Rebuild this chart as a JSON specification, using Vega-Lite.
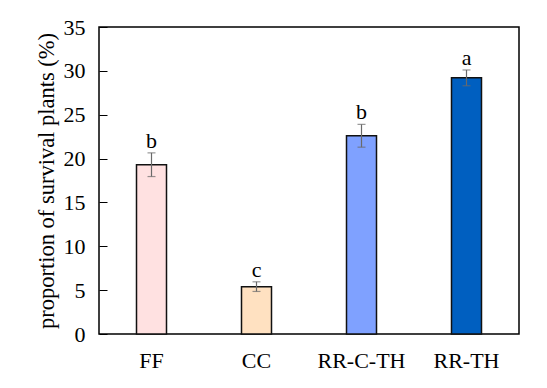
{
  "$schema": "https://vega.github.io/schema/vega-lite/v6.json",
  "autosize": {"type": "none"},
  "width": 420,
  "height": 307,
  "padding": {"left": 99, "top": 27, "right": 28, "bottom": 54},
  "background": "white",
  "config": {
    "view": {"stroke": "black", "strokeWidth": 1.5},
    "font": "'Times New Roman', 'Liberation Serif', serif"
  },
  "data": {
    "values": [
      {"group": "FF", "value": 19.3, "lo": 17.95, "hi": 20.65, "sig": "b"},
      {"group": "CC", "value": 5.4, "lo": 4.85, "hi": 5.95, "sig": "c"},
      {"group": "RR-C-TH", "value": 22.6, "lo": 21.3, "hi": 23.9, "sig": "b"},
      {"group": "RR-TH", "value": 29.2, "lo": 28.3, "hi": 30.1, "sig": "a"}
    ]
  },
  "encoding": {
    "x": {
      "field": "group",
      "type": "nominal",
      "sort": null,
      "scale": {"paddingInner": 0.714, "paddingOuter": 0.357},
      "axis": {
        "title": null,
        "labelAngle": 0,
        "ticks": false,
        "domain": false,
        "labelFont": "'Times New Roman', 'Liberation Serif', serif",
        "labelFontSize": 22,
        "labelColor": "black",
        "labelPadding": 16
      }
    }
  },
  "layer": [
    {
      "mark": {"type": "bar", "stroke": "#111111", "strokeWidth": 1.5, "width": 30},
      "encoding": {
        "y": {
          "field": "value",
          "type": "quantitative",
          "scale": {"domain": [0, 35]},
          "axis": {
            "title": "proportion of survival plants (%)",
            "titleFont": "'Times New Roman', 'Liberation Serif', serif",
            "titleFontSize": 22.5,
            "titleFontWeight": "normal",
            "titleColor": "black",
            "titlePadding": 5,
            "values": [0, 5, 10, 15, 20, 25, 30, 35],
            "grid": false,
            "domain": false,
            "tickSize": -8,
            "tickColor": "black",
            "tickWidth": 1,
            "labelFont": "'Times New Roman', 'Liberation Serif', serif",
            "labelFontSize": 22,
            "labelColor": "black",
            "labelPadding": 22
          }
        },
        "color": {
          "field": "group",
          "type": "nominal",
          "sort": null,
          "scale": {
            "domain": ["FF", "CC", "RR-C-TH", "RR-TH"],
            "range": ["#FFE1E1", "#FFE1C1", "#7FA1FF", "#005FC0"]
          },
          "legend": null
        }
      }
    },
    {
      "mark": {"type": "rule", "color": "#6a6a6a", "strokeWidth": 1.2},
      "encoding": {
        "y": {"field": "lo", "type": "quantitative"},
        "y2": {"field": "hi"}
      }
    },
    {
      "mark": {"type": "tick", "color": "#6a6a6a", "size": 8, "thickness": 1.2, "orient": "horizontal"},
      "encoding": {"y": {"field": "lo", "type": "quantitative"}}
    },
    {
      "mark": {"type": "tick", "color": "#6a6a6a", "size": 8, "thickness": 1.2, "orient": "horizontal"},
      "encoding": {"y": {"field": "hi", "type": "quantitative"}}
    },
    {
      "mark": {"type": "text", "font": "'Times New Roman', 'Liberation Serif', serif", "fontSize": 22, "baseline": "alphabetic", "dy": -5, "color": "black"},
      "encoding": {
        "y": {"field": "hi", "type": "quantitative"},
        "text": {"field": "sig"}
      }
    }
  ]
}
